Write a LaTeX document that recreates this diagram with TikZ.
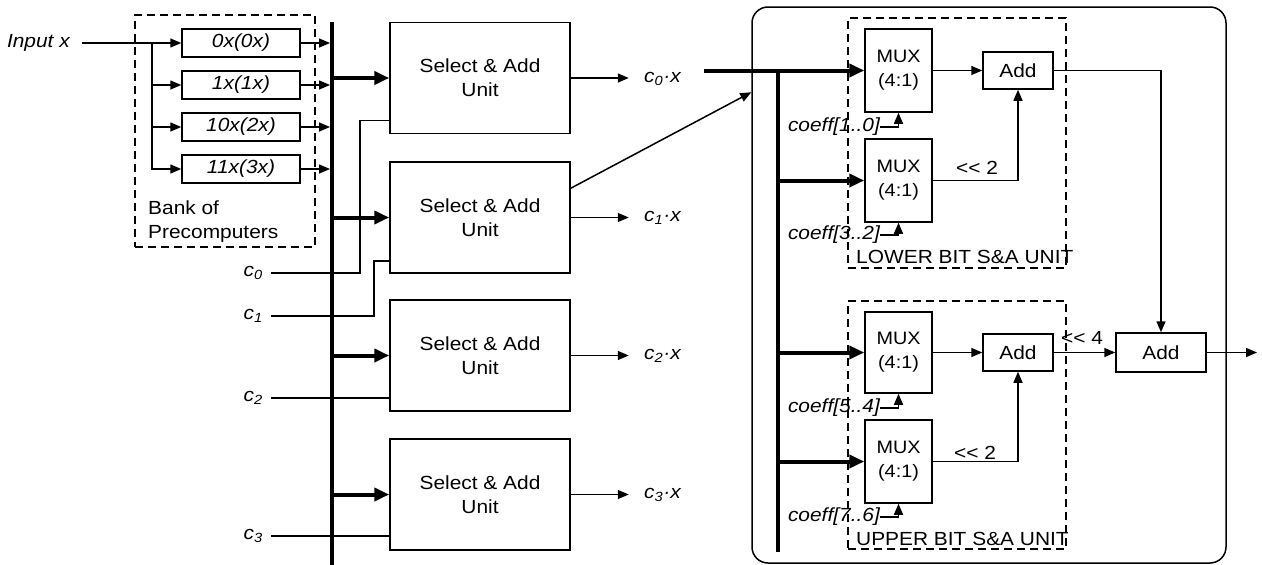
\documentclass[tikz,border=0pt]{standalone}
\usepackage{fontspec}
\setmainfont{Liberation Sans}[FakeStretch=1.1]
\usetikzlibrary{arrows.meta}
\begin{document}
\begin{tikzpicture}[x=1pt,y=-1pt,
  font=\fontsize{19}{24}\selectfont,
  wire/.style={line width=1.5pt},
  warr/.style={wire,-{Triangle[length=11pt,width=9pt]}},
  barr/.style={line width=4pt,-{Triangle[length=15pt,width=13pt]}},
  busline/.style={line width=4pt},
  blk/.style={draw,wire,inner sep=0pt,align=center},
  dbox/.style={draw,wire,dash pattern=on 8pt off 5pt},
  lbl/.style={inner sep=0pt},
  itl/.style={font=\fontsize{19}{24}\selectfont\itshape},
]
\useasboundingbox (0,0) rectangle (1262,565);

% ---------- bank of precomputers ----------
\node[dbox,minimum width=180pt,minimum height=232pt] (bank) at (225,131) {};
\node[lbl,anchor=north west,align=left] (banklbl) at (148,201) {Bank of\\Precomputers};
\node[blk,itl,minimum width=118pt,minimum height=28pt] (p0) at (241,43) {0x(0x)};
\node[blk,itl,minimum width=118pt,minimum height=28pt] (p1) at (241,85) {1x(1x)};
\node[blk,itl,minimum width=118pt,minimum height=28pt] (p2) at (241,127) {10x(2x)};
\node[blk,itl,minimum width=118pt,minimum height=28pt] (p3) at (241,169) {11x(3x)};
\node[lbl,itl,anchor=east] (inp) at (70,43) {Input x};
\coordinate (br) at (152,43);
\draw[warr] ([xshift=12pt]inp.east) -- (p0.west);
\draw[warr] (br) |- (p1.west);
\draw[warr] (br) |- (p2.west);
\draw[warr] (br) |- (p3.west);

% ---------- main bus ----------
\coordinate (busT) at (332,22);
\coordinate (busB) at (332,565);
\draw[busline] (busT) -- (busB);
\foreach \p in {p0,p1,p2,p3}{
  \draw[warr,shorten >=2pt] (\p.east) -- (\p.east -| busT);
}

% ---------- select & add units ----------
\node[blk,minimum width=180pt,minimum height=111pt] (u0) at (480,78) {Select \& Add\\Unit};
\node[blk,minimum width=180pt,minimum height=111pt] (u1) at (480,217.5) {Select \& Add\\Unit};
\node[blk,minimum width=180pt,minimum height=111pt] (u2) at (480,355.5) {Select \& Add\\Unit};
\node[blk,minimum width=180pt,minimum height=111pt] (u3) at (480,494.5) {Select \& Add\\Unit};
\foreach \u in {u0,u1,u2,u3}{
  \draw[barr] ([xshift=2pt]\u.west -| busT) -- (\u.west);
  \draw[warr] (\u.east) -- ++(58,0);
}
\node[lbl,itl,anchor=base west] (o0) at (644,82) {c\textsubscript{0}·x};
\node[lbl,itl,anchor=base west] (o1) at (644,221.5) {c\textsubscript{1}·x};
\node[lbl,itl,anchor=base west] (o2) at (644,359.5) {c\textsubscript{2}·x};
\node[lbl,itl,anchor=base west] (o3) at (644,498.5) {c\textsubscript{3}·x};

% ---------- coefficient inputs ----------
\node[lbl,itl,anchor=base east] (c0) at (263,276) {c\textsubscript{0}};
\node[lbl,itl,anchor=base east] (c1) at (263,319) {c\textsubscript{1}};
\node[lbl,itl,anchor=base east] (c2) at (263,401) {c\textsubscript{2}};
\node[lbl,itl,anchor=base east] (c3) at (263,539) {c\textsubscript{3}};
\coordinate (c0s) at (271,273);
\coordinate (c1s) at (271,316);
\coordinate (c2s) at (271,398);
\coordinate (c3s) at (271,536);
\draw[wire] (c0s) -- ++(89,0) |- ([yshift=14pt]u0.south west);
\draw[wire] (c1s) -- ++(103,0) |- ([yshift=13pt]u1.south west);
\draw[wire] (c2s) -- (c2s -| u2.west);
\draw[wire] (c3s) -- (c3s -| u3.west);

% ---------- expanded S&A unit ----------
\node[draw,wire,rounded corners=16pt,minimum width=474pt,minimum height=556pt] (R) at (989,285) {};
\draw[warr] ([yshift=-27pt]u1.north east) -- ([yshift=-86pt]R.north west);

\node[dbox,minimum width=218pt,minimum height=250pt] (lo) at (957,143) {};
\node[dbox,minimum width=218pt,minimum height=248pt] (up) at (957,425) {};
\node[lbl,anchor=base west] (lolbl) at (856,263) {LOWER BIT S\&A UNIT};
\node[lbl,anchor=base west] (uplbl) at (856,545) {UPPER BIT S\&A UNIT};

\node[blk,minimum width=67pt,minimum height=83pt,font=\fontsize{18}{24}\selectfont] (m0) at (898.5,70.5) {MUX\\(4:1)};
\node[blk,minimum width=67pt,minimum height=83pt,font=\fontsize{18}{24}\selectfont] (m1) at (898.5,180.5) {MUX\\(4:1)};
\node[blk,minimum width=67pt,minimum height=81pt,font=\fontsize{18}{24}\selectfont] (m2) at (898.5,352.5) {MUX\\(4:1)};
\node[blk,minimum width=67pt,minimum height=83pt,font=\fontsize{18}{24}\selectfont] (m3) at (898.5,461.5) {MUX\\(4:1)};

\coordinate (cin) at (704,70.5);
\coordinate (ibT) at (778,68.5);
\coordinate (ibB) at (778,552);
\draw[barr] (cin) -- (m0.west);
\draw[busline] (ibT) -- (ibB);
\foreach \m in {m1,m2,m3}{
  \draw[barr] ([xshift=-2pt]\m.west -| ibT) -- (\m.west);
}

\node[lbl,itl,anchor=east] (k0) at (880,127) {coeff[1..0]};
\node[lbl,itl,anchor=east] (k1) at (880,235) {coeff[3..2]};
\node[lbl,itl,anchor=east] (k2) at (880,408) {coeff[5..4]};
\node[lbl,itl,anchor=east] (k3) at (880,517) {coeff[7..6]};
\draw[warr] (k0.east) -| (m0.south);
\draw[warr] (k1.east) -| (m1.south);
\draw[warr] (k2.east) -| (m2.south);
\draw[warr] (k3.east) -| (m3.south);

\node[blk,minimum width=70pt,minimum height=37pt] (a0) at (1018,70.5) {Add};
\node[blk,minimum width=70pt,minimum height=37pt] (a1) at (1018,352.5) {Add};
\node[blk,minimum width=90pt,minimum height=39pt] (af) at (1161,352.5) {Add};

\draw[warr] (m0.east) -- (a0.west);
\draw[warr] (m1.east) -| (a0.south);
\draw[warr] (m2.east) -- (a1.west);
\draw[warr] (m3.east) -| (a1.south);
\draw[warr] (a0.east) -| (af.north);
\draw[warr] (a1.east) -- (af.west);
\coordinate (fout) at (1257,352.5);
\draw[warr] (af.east) -- (fout);

\node[lbl] (s0) at (977,168) {<{}< 2};
\node[lbl] (s1) at (975,453) {<{}< 2};
\node[lbl] (s2) at (1082,338) {<{}< 4};
\end{tikzpicture}
\end{document}
